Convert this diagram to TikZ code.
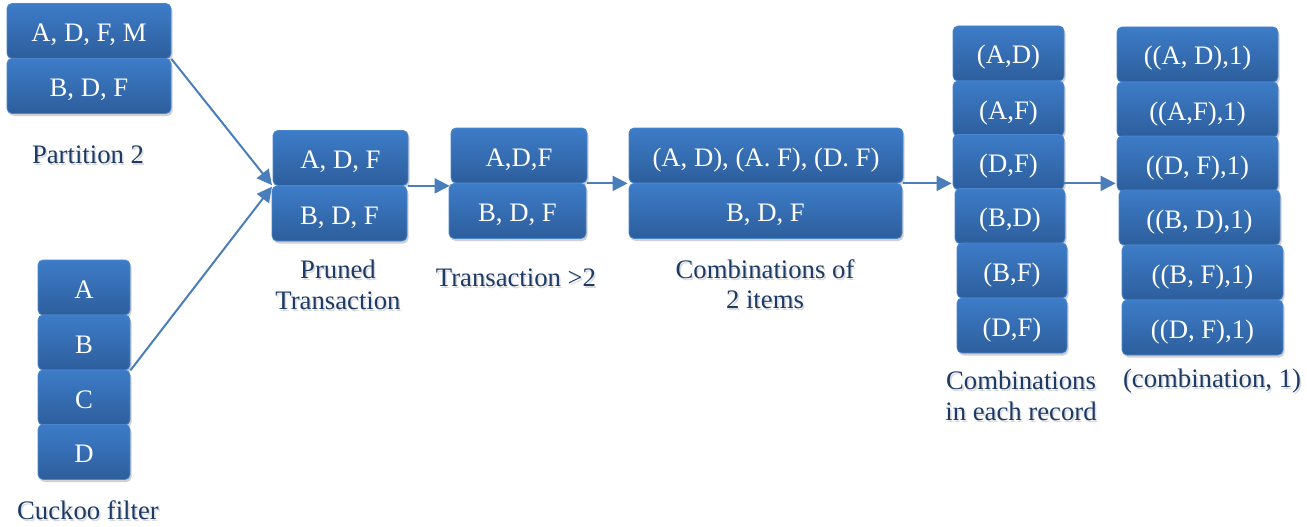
\documentclass[tikz,border=0pt]{standalone}
\usepackage{fontspec}
\setmainfont{Liberation Serif}
\usetikzlibrary{arrows.meta,shadows,calc}

\definecolor{celltop}{HTML}{3D7CC8}
\definecolor{cellbot}{HTML}{2D5E9C}
\definecolor{celledge}{HTML}{4A86CE}
\definecolor{flow}{HTML}{4A7EBB}
\definecolor{caption}{HTML}{1C3A66}

\tikzset{
  cell/.style={rounded corners=5pt, draw=celledge, line width=0.8pt,
    top color=celltop, bottom color=cellbot, text=white,
    inner sep=0pt, minimum height=55pt, text height=21pt, text depth=0pt,
    drop shadow={shadow xshift=1.5pt, shadow yshift=-2.5pt, fill=black, opacity=0.18},
    font=\fontsize{26.7}{30.5}\selectfont},
  caption/.style={text=caption, align=center, inner sep=0pt,
    font=\fontsize{26.7}{30.5}\selectfont},
  captionshade/.style={text=black, opacity=0.15, align=center, inner sep=0pt,
    font=\fontsize{26.7}{30.5}\selectfont},
  flowarrow/.style={draw=flow, line width=2pt,
    -{Triangle[length=15pt,width=15pt]}, shorten >=1pt}
}

% caption with a faint offset shadow copy underneath
\newcommand{\capnode}[3]{%
  \node[captionshade] at ($(#2)+(1.5,2)$) {#3};
  \node[caption] (#1) at (#2) {#3};}

\begin{document}
\begin{tikzpicture}[x=1pt, y=-1pt]
\useasboundingbox (0,0) rectangle (1307,527);

% Partition 2
\node[cell, minimum width=164pt] (p1) at (89,31) {A, D, F, M};
\node[cell, minimum width=164pt] (p2) at (89,86) {B, D, F};
\capnode{lpart}{88,155}{Partition 2}

% Cuckoo filter
\node[cell, minimum width=92pt] (c1) at (84,287.5) {A};
\node[cell, minimum width=92pt] (c2) at (84,342.5) {B};
\node[cell, minimum width=92pt] (c3) at (84,397.5) {C};
\node[cell, minimum width=92pt] (c4) at (84,452) {D};
\capnode{lcuckoo}{88,510}{Cuckoo filter}

% Pruned transaction
\node[cell, minimum width=135pt] (pr1) at (340.5,158) {A, D, F};
\node[cell, minimum width=135pt] (pr2) at (339.5,213.5) {B, D, F};
\capnode{lpruned}{338,285}{Pruned\\Transaction}

% Transaction > 2
\node[cell, minimum width=136pt] (t1) at (519,155.5) {A,D,F};
\node[cell, minimum width=137pt] (t2) at (517.5,211) {B, D, F};
\capnode{ltrans}{516,278}{Transaction >2}

% Combinations of 2 items
\node[cell, minimum width=274pt] (k1) at (766,155.5) {(A, D), (A. F), (D. F)};
\node[cell, minimum width=273pt] (k2) at (765.5,211) {B, D, F};
\capnode{lcomb}{765,284}{Combinations of\\2 items}

% Combinations in each record
\node[cell, minimum width=111pt] (r1) at (1008.5,53.5) {(A,D)};
\node[cell, minimum width=111pt] (r2) at (1008.5,108.5) {(A,F)};
\node[cell, minimum width=111pt] (r3) at (1008.5,162) {(D,F)};
\node[cell, minimum width=110pt] (r4) at (1010,216) {(B,D)};
\node[cell, minimum width=110pt] (r5) at (1012,270.5) {(B,F)};
\node[cell, minimum width=110pt] (r6) at (1012,325.5) {(D,F)};
\capnode{lrec}{1021,396}{Combinations\\in each record}

% (combination, 1) pairs
\node[cell, minimum width=161pt] (q1) at (1197.5,54.5) {((A, D),1)};
\node[cell, minimum width=161pt] (q2) at (1197.5,109.5) {((A,F),1)};
\node[cell, minimum width=161pt] (q3) at (1197.5,163.5) {((D, F),1)};
\node[cell, minimum width=161pt] (q4) at (1199.5,217.5) {((B, D),1)};
\node[cell, minimum width=161pt] (q5) at (1202.5,272.5) {((B, F),1)};
\node[cell, minimum width=161pt] (q6) at (1202.5,327.5) {((D, F),1)};
\capnode{lpairs}{1212,381}{(combination, 1)}

% Data flow
\draw[flowarrow] (p1.south east) -- (pr1.south west);
\draw[flowarrow] (c2.south east) -- (pr1.south west);
\draw[flowarrow] (pr1.south east) -- (pr1.south east -| t1.west);
\draw[flowarrow] (t1.south east) -- (t1.south east -| k1.west);
\draw[flowarrow] (k1.south east) -- (k1.south east -| r3.west);
\draw[flowarrow] (k1.south east -| r3.east) -- (k1.south east -| q3.west);
\end{tikzpicture}
\end{document}
